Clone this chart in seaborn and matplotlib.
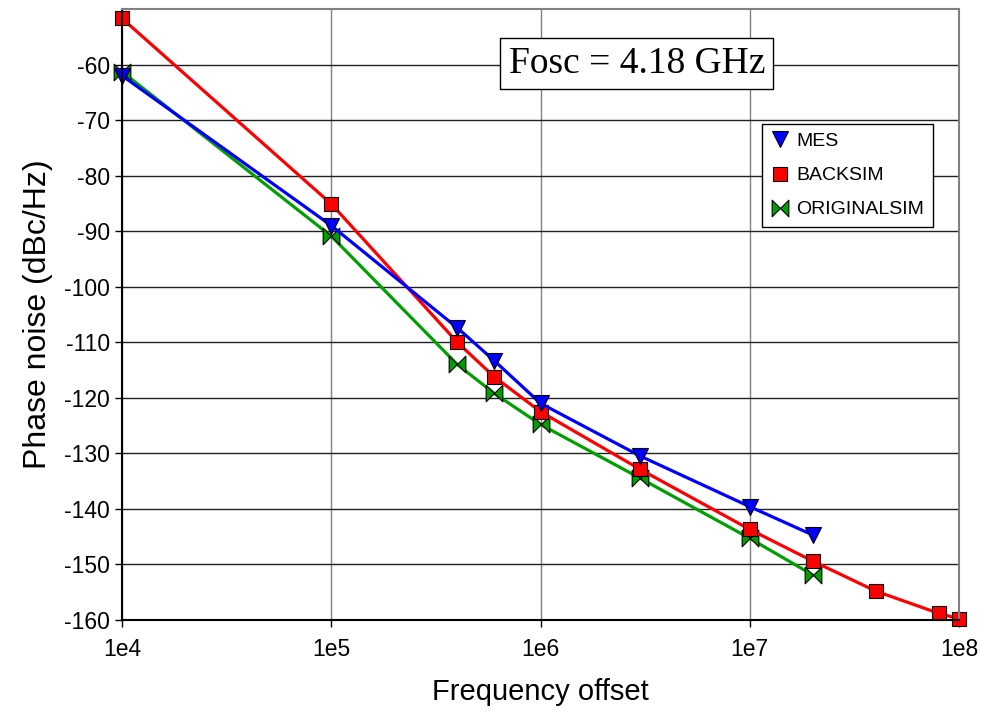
import matplotlib
matplotlib.use("Agg")
import matplotlib.pyplot as plt
from matplotlib.path import Path
import seaborn as sns
import pandas as pd

mes_freq = [1e4, 1e5, 4e5, 6e5, 1e6, 3e6, 1e7, 2e7]
mes_pn = [-62.0, -89.0, -107.4, -113.3, -121.0, -130.5, -139.6, -144.7]

backsim_freq = [1e4, 1e5, 4e5, 6e5, 1e6, 3e6, 1e7, 2e7, 4e7, 8e7, 1e8]
backsim_pn = [-51.7, -85.1, -110.0, -116.2, -122.5, -132.9, -143.7, -149.4, -154.8, -158.8, -159.8]

orig_freq = [1e4, 1e5, 4e5, 6e5, 1e6, 3e6, 1e7, 2e7]
orig_pn = [-61.3, -90.9, -114.0, -119.2, -124.8, -134.5, -145.3, -151.9]

x_ticks = [1e4, 1e5, 1e6, 1e7, 1e8]
x_tick_labels = ["1e4", "1e5", "1e6", "1e7", "1e8"]
y_ticks = list(range(-160, -59, 10))

# bow-tie marker (two triangles meeting in the middle)
bowtie = Path(
    [(-1, -1), (0, 0), (-1, 1), (-1, -1), (1, -1), (0, 0), (1, 1), (1, -1)],
    [Path.MOVETO, Path.LINETO, Path.LINETO, Path.CLOSEPOLY,
     Path.MOVETO, Path.LINETO, Path.LINETO, Path.CLOSEPOLY],
)

sns.set_style("ticks")
plt.rcParams["font.family"] = ["Liberation Sans", "DejaVu Sans"]
plt.rcParams["axes.unicode_minus"] = False
plt.rcParams["text.color"] = "black"
plt.rcParams["axes.labelcolor"] = "black"
plt.rcParams["xtick.color"] = "black"
plt.rcParams["ytick.color"] = "black"

fig = plt.figure(figsize=(9.81, 7.23), dpi=100)
ax = fig.add_axes([0.1244, 0.1425, 0.8532, 0.8451])
ax.set_xscale("log")

series = [
    ("ORIGINALSIM", orig_freq, orig_pn, "#00a000", bowtie, 12),
    ("BACKSIM", backsim_freq, backsim_pn, "#ff0000", "s", 10.5),
    ("MES", mes_freq, mes_pn, "#0000ff", "v", 12),
]

for name, f, pn, color, mk, ms in series:
    df = pd.DataFrame({"freq": f, "pn": pn})
    sns.lineplot(
        data=df, x="freq", y="pn", ax=ax, color=color, marker=mk,
        markersize=ms, markeredgecolor="black", markeredgewidth=0.8,
        linewidth=2.3, label=name, clip_on=False, estimator=None,
    )

ax.set_xlim(1e4, 1e8)
ax.set_ylim(-160, -50)
ax.set_xticks(x_ticks)
ax.set_xticklabels(x_tick_labels)
ax.minorticks_off()
ax.set_yticks(y_ticks)
ax.tick_params(axis="both", labelsize=16.5, length=5, width=1, color="black",
               labelcolor="black", direction="out")
ax.tick_params(axis="x", pad=8)

ax.grid(False)
ax.xaxis.grid(True, color="#808080", linewidth=1)
ax.yaxis.grid(True, color="#202020", linewidth=1)
ax.set_axisbelow(True)

for side in ["left", "bottom"]:
    ax.spines[side].set_color("black")
    ax.spines[side].set_linewidth(1.5)
for side in ["top", "right"]:
    ax.spines[side].set_visible(True)
    ax.spines[side].set_color("#808080")
    ax.spines[side].set_linewidth(1.5)

ax.set_xlabel("Frequency offset", fontsize=21, labelpad=12, color="black")
ax.set_ylabel("Phase noise (dBc/Hz)", fontsize=23, labelpad=8, color="black")

handles, labels = ax.get_legend_handles_labels()
order = [labels.index(n) for n in ["MES", "BACKSIM", "ORIGINALSIM"]]
leg = ax.legend(
    [handles[i] for i in order], [labels[i] for i in order],
    loc="upper left", bbox_to_anchor=(0.765, 0.812), borderaxespad=0,
    fontsize=14, frameon=True, fancybox=False, edgecolor="black",
    framealpha=1, handlelength=0.9, handletextpad=0.4, labelspacing=0.85,
    borderpad=0.45,
)
leg.get_frame().set_linewidth(1)
for line in leg.get_lines():
    line.set_linestyle("none")

ax.text(
    0.615, 0.91, "Fosc = 4.18 GHz", transform=ax.transAxes,
    ha="center", va="center", fontsize=27, color="black",
    family=["Liberation Serif", "DejaVu Serif"],
    bbox=dict(boxstyle="square,pad=0.22", facecolor="white", edgecolor="black", linewidth=1),
    zorder=5,
)

fig.savefig("out.png", dpi=100)
